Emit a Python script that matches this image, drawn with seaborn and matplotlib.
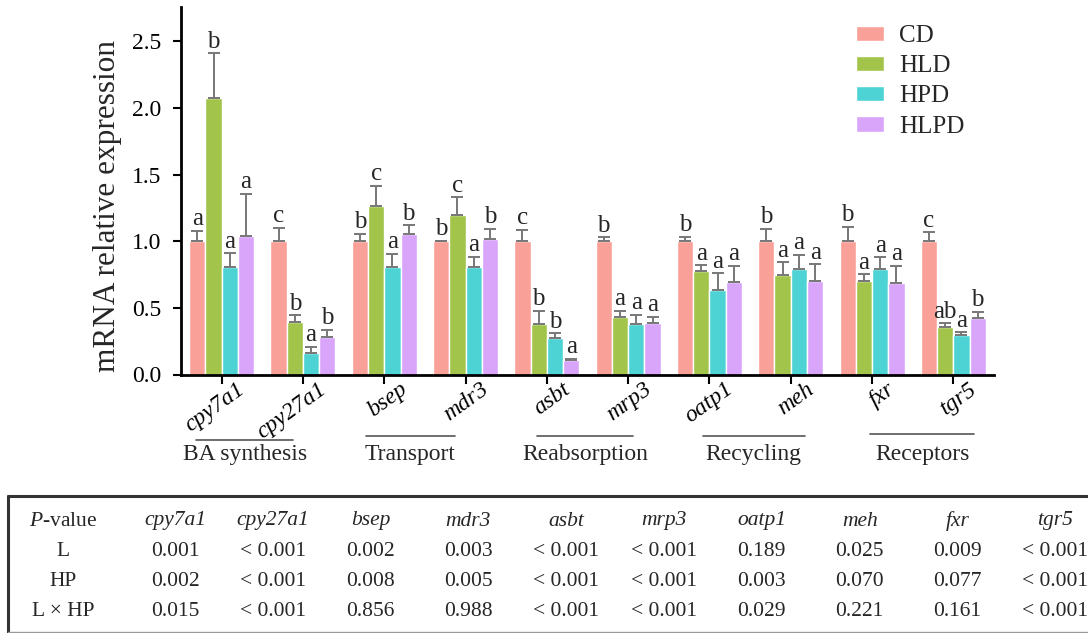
import pandas as pd
import seaborn as sns
import matplotlib.pyplot as plt
import matplotlib.transforms as mtransforms
from matplotlib.lines import Line2D

sns.set_style("ticks")
plt.rcParams["font.family"] = ["Liberation Serif", "DejaVu Serif"]
plt.rcParams["mathtext.fontset"] = "custom"
plt.rcParams["mathtext.rm"] = "Liberation Serif"
plt.rcParams["mathtext.it"] = "Liberation Serif:italic"

genes = ["cpy7a1", "cpy27a1", "bsep", "mdr3", "asbt", "mrp3", "oatp1", "meh", "fxr", "tgr5"]
diets = ["CD", "HLD", "HPD", "HLPD"]

cd = [1.0, 1.0, 1.0, 1.0, 1.0, 1.0, 1.0, 1.0, 1.0, 1.0]
hld = [2.075, 0.395, 1.265, 1.198, 0.378, 0.433, 0.78, 0.747, 0.704, 0.353]
hpd = [0.805, 0.16, 0.805, 0.81, 0.275, 0.378, 0.634, 0.79, 0.79, 0.295]
hlpd = [1.04, 0.283, 1.057, 1.015, 0.107, 0.39, 0.697, 0.70, 0.684, 0.425]

cd_err = [0.08, 0.10, 0.055, 0.005, 0.085, 0.03, 0.035, 0.093, 0.11, 0.067]
hld_err = [0.335, 0.05, 0.153, 0.132, 0.10, 0.045, 0.04, 0.095, 0.048, 0.03]
hpd_err = [0.105, 0.047, 0.10, 0.074, 0.033, 0.068, 0.126, 0.11, 0.09, 0.021]
hlpd_err = [0.315, 0.05, 0.063, 0.077, 0.013, 0.043, 0.12, 0.127, 0.133, 0.043]

cd_sig = ["a", "c", "b", "b", "c", "b", "b", "b", "b", "c"]
hld_sig = ["b", "b", "c", "c", "b", "a", "a", "a", "a", "ab"]
hpd_sig = ["a", "a", "a", "a", "b", "a", "a", "a", "a", "a"]
hlpd_sig = ["a", "b", "b", "b", "a", "a", "a", "a", "a", "b"]

groups = ["BA synthesis", "Transport", "Reabsorption", "Recycling", "Receptors"]

p_rows = ["L", "HP", "L × HP"]
p_L = ["0.001", "< 0.001", "0.002", "0.003", "< 0.001", "< 0.001", "0.189", "0.025", "0.009", "< 0.001"]
p_HP = ["0.002", "< 0.001", "0.008", "0.005", "< 0.001", "< 0.001", "0.003", "0.070", "0.077", "< 0.001"]
p_LHP = ["0.015", "< 0.001", "0.856", "0.988", "< 0.001", "< 0.001", "0.029", "0.221", "0.161", "< 0.001"]

colors = ["#F9A099", "#A2C44B", "#4DD3D4", "#D8A5FA"]

means = [cd, hld, hpd, hlpd]
errs = [cd_err, hld_err, hpd_err, hlpd_err]
sigs = [cd_sig, hld_sig, hpd_sig, hlpd_sig]

df = pd.DataFrame({
    "gene": genes * 4,
    "diet": [d for d in diets for _ in genes],
    "value": cd + hld + hpd + hlpd,
})

fig = plt.figure(figsize=(10.88, 6.33), dpi=100)
W, H = 1088, 633
ax = fig.add_axes([181 / W, 1 - 374.5 / H, (994 - 181) / W, (374.5 - 6.7) / H])

sns.barplot(data=df, x="gene", y="value", hue="diet", palette=colors,
            saturation=1, errorbar=None, width=0.8, ax=ax, legend=True)

for cont, m, e, s in zip(ax.containers, means, errs, sigs):
    xs = [b.get_x() + b.get_width() / 2 for b in cont]
    ax.errorbar(xs, m, yerr=[[0] * len(m), e], fmt="none", ecolor="#777777",
                elinewidth=1.4, capsize=4, capthick=1.4, zorder=1)
    for x, v, ev, lab in zip(xs, m, e, s):
        ax.annotate(lab, (x, v + ev), xytext=(0, 0.5), textcoords="offset points",
                    ha="center", va="bottom", fontsize=18)

ax.set_ylim(0, 2.76)
ax.set_xlim(-0.5, 9.5)
ax.set_yticks([0, 0.5, 1.0, 1.5, 2.0, 2.5])
ax.set_yticklabels(["0.0", "0.5", "1.0", "1.5", "2.0", "2.5"])
ax.set_ylabel("mRNA relative expression", fontsize=22.5)
ax.yaxis.set_label_coords(-0.072, 0.458)
ax.set_xlabel("")
sns.despine(ax=ax)
for sp in ["left", "bottom"]:
    ax.spines[sp].set_linewidth(2)
    ax.spines[sp].set_color("black")
ax.tick_params(axis="y", labelsize=17, width=1.5, length=6, pad=8, direction="out", colors="black")
ax.tick_params(axis="x", width=1.5, length=6.5, pad=0, direction="out", colors="black")

off = mtransforms.ScaledTranslation(15 / 100, 5 / 100, fig.dpi_scale_trans)
ax.set_xticks(range(len(genes)))
ax.set_xticklabels(genes, rotation=36, ha="right", va="top", rotation_mode="anchor",
                   fontsize=17, style="italic")
for lab in ax.get_xticklabels():
    lab.set_transform(lab.get_transform() + off)

# group underlines and names
spans = [(-0.31, 0.88), (1.77, 2.87), (3.88, 5.06), (5.92, 7.17), (7.97, 9.26)]
line_y = [-0.178, -0.168, -0.168, -0.168, -0.163]
tr = ax.get_xaxis_transform()
for name, (x0, x1), ly in zip(groups, spans, line_y):
    ax.plot([x0, x1], [ly, ly], color="#555555", lw=1.2, transform=tr, clip_on=False)
    ax.text((x0 + x1) / 2, -0.19, name, ha="center", va="top", fontsize=17, transform=tr)

ax.legend(loc="upper left", bbox_to_anchor=(846 / W, 1 - 15 / H), bbox_transform=fig.transFigure,
          frameon=False, fontsize=18, handlelength=1.12, handleheight=0.56,
          labelspacing=0.33, handletextpad=0.6, borderaxespad=0)

# P-value table
fig.add_artist(Line2D([8 / W, 1.0], [1 - 496 / H] * 2, color="#333333", lw=2.2))
fig.add_artist(Line2D([8 / W] * 2, [1 - 496 / H, 1 - 632 / H], color="#333333", lw=2.2))
fig.add_artist(Line2D([8 / W, 1.0], [1 - 631.5 / H] * 2, color="#999999", lw=1))

row_y = [521, 551, 581, 612]
col_x = [63] + [175 + i * 97.8 for i in range(len(genes))]
fig.text(col_x[0] / W, 1 - row_y[0] / H, "$P$-value", ha="center", va="center", fontsize=15.5)
for x, g in zip(col_x[1:], genes):
    fig.text(x / W, 1 - row_y[0] / H, g, ha="center", va="center", fontsize=15.5, style="italic")
for y, name, vals in zip(row_y[1:], p_rows, [p_L, p_HP, p_LHP]):
    fig.text(col_x[0] / W, 1 - y / H, name, ha="center", va="center", fontsize=15.5)
    for x, v in zip(col_x[1:], vals):
        fig.text(x / W, 1 - y / H, v, ha="center", va="center", fontsize=15.5)

plt.savefig("out.png", dpi=100)
